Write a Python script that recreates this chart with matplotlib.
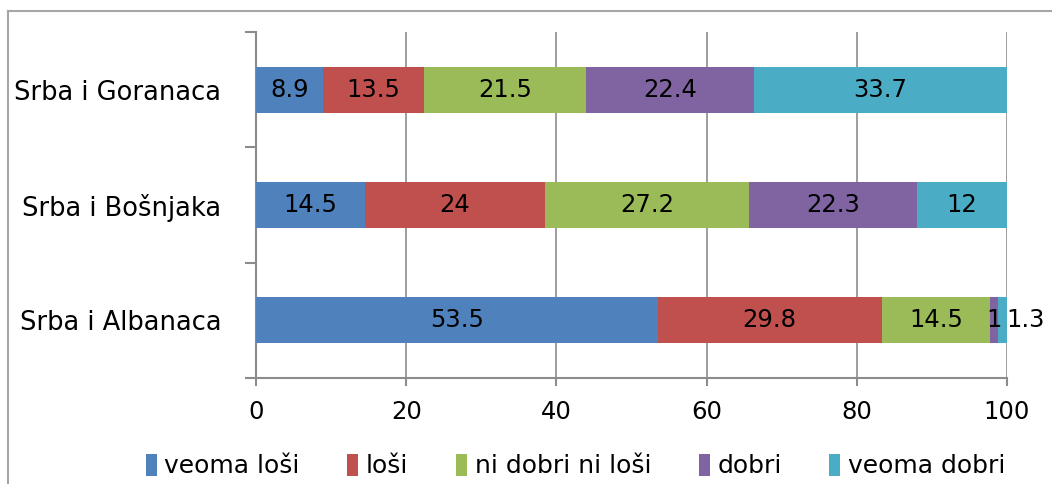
import numpy as np
import matplotlib.pyplot as plt
from matplotlib.lines import Line2D
from matplotlib.patches import Patch

# donnees du graphique
kategorije = ['Srba i Albanaca', 'Srba i Bošnjaka', 'Srba i Goranaca']
serije = ['veoma loši', 'loši', 'ni dobri ni loši', 'dobri', 'veoma dobri']
veoma_losi = [53.5, 14.5, 8.9]
losi = [29.8, 24, 13.5]
ni_dobri_ni_losi = [14.5, 27.2, 21.5]
dobri = [1, 22.3, 22.4]
veoma_dobri = [1.3, 12, 33.7]
boje = ['#4F81BD', '#C0504D', '#9BBB59', '#8064A2', '#4BACC6']

plt.rcParams['font.family'] = ['DejaVu Sans']

fig = plt.figure(figsize=(10.52, 4.84), dpi=100)
ax = fig.add_axes([256/1052, 1-378/484, (1007-256)/1052, (378-32)/484])

vrednosti = [veoma_losi, losi, ni_dobri_ni_losi, dobri, veoma_dobri]
y = np.arange(len(kategorije))
levo = np.zeros(len(kategorije))
for i, (ime, v) in enumerate(zip(serije, vrednosti)):
    v = np.array(v, dtype=float)
    ax.barh(y, v, left=levo, height=0.4, color=boje[i], label=ime, zorder=3)
    for j in range(len(kategorije)):
        cx = levo[j] + v[j]/2
        # petite valeur en fin de barre : on decale l'etiquette
        if v[j] < 2 and i == len(serije)-1:
            cx += 3.0
        ax.text(cx, y[j], f'{v[j]:g}', ha='center', va='center', fontsize=17.5, color='black', zorder=4)
    levo += v

siva = '#8C8C8C'
ax.set_xlim(0, 100)
ax.set_ylim(-0.5, 2.5)
ax.set_xticks(np.arange(0, 101, 20))
ax.set_yticks(y)
ax.set_yticklabels(kategorije, fontsize=18.5)
ax.set_yticks([-0.5, 0.5, 1.5, 2.5], minor=True)
ax.tick_params(axis='y', which='major', length=0, pad=25)
ax.tick_params(axis='y', which='minor', length=8, width=1.5, color=siva)
ax.tick_params(axis='x', length=6, width=1.5, color=siva, labelsize=17.5, pad=10)
ax.grid(axis='x', color=siva, linewidth=1.2, zorder=0)
for s in ['top', 'right']:
    ax.spines[s].set_visible(False)
for s in ['left', 'bottom']:
    ax.spines[s].set_color(siva)
    ax.spines[s].set_linewidth(1.5)

ruke = [Patch(facecolor=b, edgecolor='none') for b in boje]
fig.legend(ruke, serije, loc='center', bbox_to_anchor=(0.547, 1-466/484), ncol=5, frameon=False,
           fontsize=18, handlelength=0.45, handleheight=1.0, handletextpad=0.3, columnspacing=1.9)

# cadre exterieur
fig.add_artist(Line2D([8/1052, 8/1052], [0, 1-11/484], color='#A6A6A6', lw=1.5))
fig.add_artist(Line2D([8/1052, 1], [1-11/484, 1-11/484], color='#A6A6A6', lw=1.5))

fig.savefig('out.png', dpi=100)
